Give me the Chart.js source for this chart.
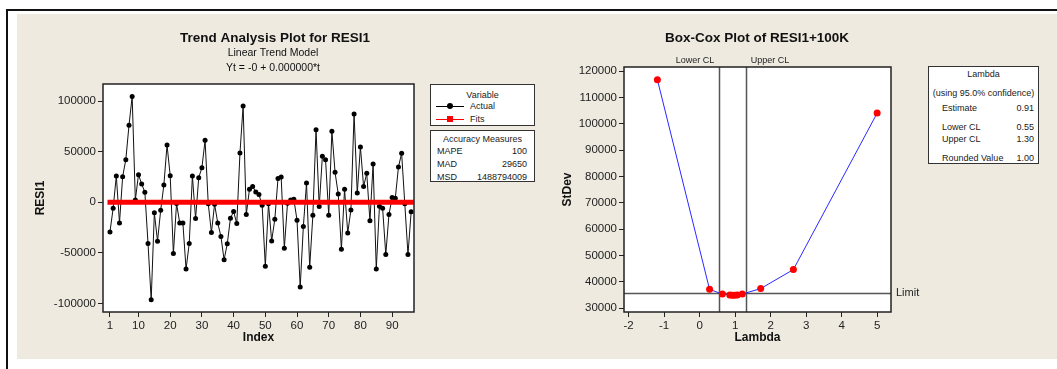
<!DOCTYPE html>
<html>
<head>
<meta charset="utf-8">
<script src="https://cdn.jsdelivr.net/npm/chart.js@4.4.0/dist/chart.umd.min.js"></script>
<style>
  html, body { margin: 0; padding: 0; background: #fff; width: 1057px; height: 369px; overflow: hidden;
    font-family: "Liberation Sans", Arial, sans-serif; color: #1a1a1a; }
  #frameTop { position: absolute; left: 6px; top: 9px; width: 1051px; height: 2px; background: #111; }
  #frameLeft { position: absolute; left: 6px; top: 9px; width: 2px; height: 360px; background: #111; }
  #panel { position: absolute; left: 17px; top: 14px; width: 1040px; height: 345px; background: #eeeae0; }
  canvas { position: absolute; top: 0; }
  .box { position: absolute; box-sizing: border-box; background: #fff; border: 1px solid #333; font-size: 9px; line-height: 10px; }
  .box div { position: absolute; white-space: nowrap; }
  .c { left: 0; right: 0; text-align: center; }
  .r { text-align: right; }
</style>
</head>
<body>
<div id="panel"></div>
<div id="frameTop"></div>
<div id="frameLeft"></div>
<canvas id="trend" width="428" height="369" style="left:0"></canvas>
<canvas id="boxcox" width="517" height="369" style="left:540px"></canvas>

<!-- legend boxes of the trend plot -->
<div class="box" style="left:430px;top:84px;width:105px;height:42px">
  <div class="c" style="top:5px">Variable</div>
  <div style="left:5px;top:21px;width:28px;height:1px;background:#000"></div>
  <div style="left:16px;top:18px;width:6px;height:6px;border-radius:50%;background:#000"></div>
  <div style="left:39px;top:16px">Actual</div>
  <div style="left:5px;top:34px;width:28px;height:1px;background:#f00"></div>
  <div style="left:16px;top:31px;width:6px;height:6px;background:#f00"></div>
  <div style="left:39px;top:29px">Fits</div>
</div>
<div class="box" style="left:430px;top:130px;width:105px;height:52px">
  <div class="c" style="top:3px">Accuracy Measures</div>
  <div style="left:6px;top:15px">MAPE</div><div class="r" style="right:7px;top:15px">100</div>
  <div style="left:6px;top:28px">MAD</div><div class="r" style="right:7px;top:28px">29650</div>
  <div style="left:6px;top:41px">MSD</div><div class="r" style="right:7px;top:41px">1488794009</div>
</div>

<!-- lambda box of the Box-Cox plot -->
<div class="box" style="left:928px;top:66px;width:111px;height:98px">
  <div class="c" style="top:2px">Lambda</div>
  <div class="c" style="top:21px">(using 95.0% confidence)</div>
  <div style="left:13px;top:36px">Estimate</div><div class="r" style="right:4px;top:36px">0.91</div>
  <div style="left:13px;top:55px">Lower CL</div><div class="r" style="right:4px;top:55px">0.55</div>
  <div style="left:13px;top:67px">Upper CL</div><div class="r" style="right:4px;top:67px">1.30</div>
  <div style="left:13px;top:86px">Rounded Value</div><div class="r" style="right:4px;top:86px">1.00</div>
</div>

<script>
// residuals RESI1, observations 1..96
const resi1 = [
  -29300, -5900, 26000, -20400, 25300, 42100, 76000, 104600, 2300, 27300,
  18100, 9900, -40800, -96400, -10500, -38500, -7900, 17100, 56600, 26300,
  -50700, -1300, -20400, -20400, -66100, -40800, 26000, -16100, 24300, 34200,
  61200, -1600, -29900, -2000, -20400, -33900, -56900, -41100, -15800, -9200,
  -21100, 48700, 95100, -12200, 12800, 15500, 10200, 7600, -3000, -63200,
  -1600, -38200, -16800, 23400, 25000, -45400, -1000, 2300, 3000, -17800,
  -83900, -24000, 19100, -64200, -12800, 71700, -4300, 45400, 42100, -12800,
  70100, 29600, 8200, -46400, 12800, -30300, -7600, 87200, 9200, 54600,
  15500, 28600, -18400, 37800, -66100, -3900, -5900, -51700, -12200, 4600,
  3900, 34900, 48400, -1600, -51700, -9500
];
// fitted trend Yt = -0 + 0.000000*t, from first to last observation
const fitIndex = [1, 96];
const fitValues = [0, 0];
const indexTicks = [1, 10, 20, 30, 40, 50, 60, 70, 80, 90];
const resiTicks = [-100000, -50000, 0, 50000, 100000];

// Box-Cox search points
const lambdaVals = [-1.19, 0.28, 0.64, 0.85, 0.92, 0.99, 1.06, 1.20, 1.72, 2.64, 5.00];
const stdevVals = [116800, 37200, 35400, 35100, 35000, 35000, 35100, 35400, 37500, 44700, 104100];
const lambdaTicks = [-2, -1, 0, 1, 2, 3, 4, 5];
const stdevTicks = [30000, 40000, 50000, 60000, 70000, 80000, 90000, 100000, 110000, 120000];
const lowerCL = 0.55;
const upperCL = 1.30;
const limitStDev = 35800;

const FONT = '"Liberation Sans", Arial, sans-serif';
Chart.defaults.font.family = FONT;
Chart.defaults.color = '#1a1a1a';

const fixedTicks = values => scale => { scale.ticks = values.map(v => ({ value: v })); };

function axis(min, max, ticks, title, size) {
  return {
    type: 'linear', min, max,
    afterBuildTicks: fixedTicks(ticks),
    afterFit: size,
    grid: { drawOnChartArea: false, drawTicks: true, tickLength: 5, color: '#222', lineWidth: 1 },
    border: { display: false },
    ticks: { font: { size: 11.5 }, color: '#222', padding: 2, autoSkip: false, maxRotation: 0,
      callback: v => String(v) },
    title: { display: true, text: title, font: { size: 12, weight: 'bold' }, color: '#111',
      padding: { top: 0, bottom: 0 } }
  };
}

// white plot area, black frame and free texts
const framePlugin = {
  id: 'frame',
  beforeDraw(chart) {
    const { ctx, chartArea: a } = chart;
    ctx.save();
    ctx.fillStyle = '#fff';
    ctx.fillRect(a.left, a.top, a.width, a.height);
    ctx.restore();
  },
  afterDraw(chart, args, opts) {
    const { ctx, chartArea: a } = chart;
    ctx.save();
    ctx.strokeStyle = '#222';
    ctx.lineWidth = 1.5;
    ctx.strokeRect(a.left, a.top, a.width, a.height);
    (opts.texts || []).forEach(t => {
      ctx.font = t.font + ' ' + FONT;
      ctx.fillStyle = '#111';
      ctx.textAlign = t.align || 'center';
      ctx.textBaseline = 'middle';
      ctx.fillText(t.text, t.x, t.y);
    });
    ctx.restore();
  }
};

// confidence limits and limit line of the Box-Cox plot
const limitsPlugin = {
  id: 'limits',
  beforeDatasetsDraw(chart) {
    const { ctx, chartArea: a, scales: { x, y } } = chart;
    ctx.save();
    ctx.strokeStyle = '#555';
    ctx.lineWidth = 1.5;
    ctx.beginPath();
    [lowerCL, upperCL].forEach(v => {
      const px = Math.round(x.getPixelForValue(v)) + 0.5;
      ctx.moveTo(px, a.top); ctx.lineTo(px, a.bottom);
    });
    const py = Math.round(y.getPixelForValue(limitStDev)) + 0.5;
    ctx.moveTo(a.left, py); ctx.lineTo(a.right, py);
    ctx.stroke();
    ctx.restore();
  },
  afterDraw(chart) {
    const { ctx, chartArea: a, scales: { x, y } } = chart;
    ctx.save();
    ctx.fillStyle = '#222';
    ctx.textBaseline = 'middle';
    ctx.font = '9px ' + FONT;
    ctx.textAlign = 'right';
    ctx.fillText('Lower CL', x.getPixelForValue(lowerCL) - 5, a.top - 6);
    ctx.textAlign = 'left';
    ctx.fillText('Upper CL', x.getPixelForValue(upperCL) + 5, a.top - 6);
    ctx.font = '11px ' + FONT;
    ctx.fillText('Limit', a.right + 5, y.getPixelForValue(limitStDev));
    ctx.restore();
  }
};

new Chart(document.getElementById('trend'), {
  type: 'line',
  data: {
    datasets: [
      {
        label: 'Fits',
        data: fitIndex.map((t, i) => ({ x: t, y: fitValues[i] })),
        borderColor: '#ff0000', borderWidth: 5, borderCapStyle: 'square',
        pointRadius: 0, order: 0
      },
      {
        label: 'Actual',
        data: resi1.map((v, i) => ({ x: i + 1, y: v })),
        borderColor: '#111', borderWidth: 1, tension: 0,
        pointRadius: 2.5, pointBackgroundColor: '#000', pointBorderWidth: 0, order: 1
      }
    ]
  },
  options: {
    responsive: false, animation: false, events: [],
    layout: { padding: { left: 33, top: 84, right: 14, bottom: 24 } },
    plugins: {
      legend: { display: false }, tooltip: { enabled: false },
      frame: { texts: [
        { text: 'Trend Analysis Plot for RESI1', x: 275, y: 38, font: 'bold 13.5px' },
        { text: 'Linear Trend Model', x: 273, y: 53, font: '10.5px' },
        { text: 'Yt = -0 + 0.000000*t', x: 273, y: 68, font: '10.5px' }
      ] }
    },
    scales: {
      x: axis(-1.2, 96.9, indexTicks, 'Index', s => { s.height = 33; }),
      y: axis(-108500, 116900, resiTicks, 'RESI1', s => { s.width = 70; })
    }
  },
  plugins: [framePlugin]
});

new Chart(document.getElementById('boxcox'), {
  type: 'line',
  data: {
    datasets: [{
      label: 'StDev',
      data: lambdaVals.map((l, i) => ({ x: l, y: stdevVals[i] })),
      borderColor: '#2a2aff', borderWidth: 1, tension: 0,
      pointRadius: 3.5, pointBackgroundColor: '#ff0000', pointBorderWidth: 0
    }]
  },
  options: {
    responsive: false, animation: false, events: [],
    layout: { padding: { left: 20, top: 67, right: 166, bottom: 24 } },
    plugins: {
      legend: { display: false }, tooltip: { enabled: false },
      frame: { texts: [
        { text: 'Box-Cox Plot of RESI1+100K', x: 217, y: 38, font: 'bold 13.5px' }
      ] }
    },
    scales: {
      x: axis(-2.13, 5.39, lambdaTicks, 'Lambda', s => { s.height = 33; }),
      y: axis(28600, 121600, stdevTicks, 'StDev', s => { s.width = 64; })
    }
  },
  plugins: [framePlugin, limitsPlugin]
});
</script>
</body>
</html>
